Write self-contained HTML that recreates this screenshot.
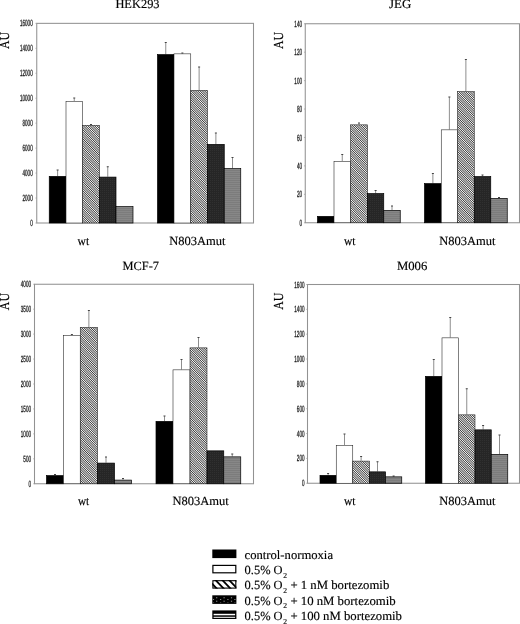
<!DOCTYPE html>
<html><head><meta charset="utf-8"><title>Figure</title>
<style>
html,body{margin:0;padding:0;background:#fff;}
svg{display:block}
.t{font-family:"Liberation Serif",serif;font-size:12.5px;fill:#000;stroke:#000;stroke-width:0.15px;text-rendering:geometricPrecision}
.k{font-family:"Liberation Sans",sans-serif;font-size:9px;fill:#1a1a1a;stroke:#1a1a1a;stroke-width:0.3px;text-rendering:geometricPrecision}
</style></head><body>
<svg width="520" height="624" viewBox="0 0 520 624">
<defs>
<pattern id="hatch" width="1.6" height="1.6" patternUnits="userSpaceOnUse" patternTransform="rotate(-45)">
<rect width="1.6" height="1.6" fill="#fafafa"/><rect x="0" y="0" width="0.74" height="1.6" fill="#2a2a2a"/>
</pattern>
<pattern id="dark" width="2" height="2" patternUnits="userSpaceOnUse">
<rect width="2" height="2" fill="#262626"/><rect x="0" y="0" width="1" height="1" fill="#303030"/>
</pattern>
<pattern id="gray" width="2" height="2" patternUnits="userSpaceOnUse">
<rect width="2" height="2" fill="#878787"/><rect x="0" y="0" width="2" height="1" fill="#7c7c7c"/>
</pattern>
</defs>
<rect width="520" height="624" fill="#fff"/>

<rect x="36.75" y="23.35" width="216.75" height="199.65" fill="none" stroke="#929292" stroke-width="1.05"/>
<line x1="35.45" x2="36.75" y1="223.00" y2="223.00" stroke="#999" stroke-width="0.7"/>
<text class="k" x="30.15" y="226.05" textLength="2.55" lengthAdjust="spacingAndGlyphs">0</text>
<line x1="35.45" x2="36.75" y1="198.04" y2="198.04" stroke="#999" stroke-width="0.7"/>
<text class="k" x="22.50" y="201.09" textLength="10.20" lengthAdjust="spacingAndGlyphs">2000</text>
<line x1="35.45" x2="36.75" y1="173.09" y2="173.09" stroke="#999" stroke-width="0.7"/>
<text class="k" x="22.50" y="176.14" textLength="10.20" lengthAdjust="spacingAndGlyphs">4000</text>
<line x1="35.45" x2="36.75" y1="148.13" y2="148.13" stroke="#999" stroke-width="0.7"/>
<text class="k" x="22.50" y="151.18" textLength="10.20" lengthAdjust="spacingAndGlyphs">6000</text>
<line x1="35.45" x2="36.75" y1="123.17" y2="123.17" stroke="#999" stroke-width="0.7"/>
<text class="k" x="22.50" y="126.22" textLength="10.20" lengthAdjust="spacingAndGlyphs">8000</text>
<line x1="35.45" x2="36.75" y1="98.22" y2="98.22" stroke="#999" stroke-width="0.7"/>
<text class="k" x="19.95" y="101.27" textLength="12.75" lengthAdjust="spacingAndGlyphs">10000</text>
<line x1="35.45" x2="36.75" y1="73.26" y2="73.26" stroke="#999" stroke-width="0.7"/>
<text class="k" x="19.95" y="76.31" textLength="12.75" lengthAdjust="spacingAndGlyphs">12000</text>
<line x1="35.45" x2="36.75" y1="48.31" y2="48.31" stroke="#999" stroke-width="0.7"/>
<text class="k" x="19.95" y="51.36" textLength="12.75" lengthAdjust="spacingAndGlyphs">14000</text>
<line x1="35.45" x2="36.75" y1="23.35" y2="23.35" stroke="#999" stroke-width="0.7"/>
<text class="k" x="19.95" y="26.40" textLength="12.75" lengthAdjust="spacingAndGlyphs">16000</text>
<text class="t" x="115.4" y="8.35" textLength="44.20" lengthAdjust="spacingAndGlyphs">HEK293</text>
<text class="t" transform="translate(8.6,40.5) rotate(-90) scale(0.955,1.1)" text-anchor="middle" style="text-rendering:geometricPrecision">AU</text>
<text class="t" x="77.5" y="244.7" textLength="11.60" lengthAdjust="spacingAndGlyphs">wt</text>
<text class="t" x="169.2" y="244.7" textLength="56.30" lengthAdjust="spacingAndGlyphs">N803Amut</text>
<line x1="57.62" x2="57.62" y1="170.00" y2="176.00" stroke="#686868" stroke-width="0.75"/>
<line x1="56.62" x2="58.62" y1="170.00" y2="170.00" stroke="#444" stroke-width="1"/>
<rect x="49.25" y="176.35" width="16.75" height="46.65" fill="#000" stroke="#000" stroke-width="0.7"/>
<line x1="74.25" x2="74.25" y1="98.00" y2="101.00" stroke="#686868" stroke-width="0.75"/>
<line x1="73.25" x2="75.25" y1="98.00" y2="98.00" stroke="#444" stroke-width="1"/>
<rect x="66.00" y="101.35" width="16.50" height="121.65" fill="#fff" stroke="#1a1a1a" stroke-width="0.55"/>
<line x1="91.00" x2="91.00" y1="124.50" y2="125.00" stroke="#686868" stroke-width="0.75"/>
<line x1="90.00" x2="92.00" y1="124.50" y2="124.50" stroke="#444" stroke-width="1"/>
<rect x="82.50" y="125.35" width="17.00" height="97.65" fill="url(#hatch)" stroke="#1a1a1a" stroke-width="0.55"/>
<line x1="107.75" x2="107.75" y1="166.75" y2="176.75" stroke="#686868" stroke-width="0.75"/>
<line x1="106.75" x2="108.75" y1="166.75" y2="166.75" stroke="#444" stroke-width="1"/>
<rect x="99.50" y="177.10" width="16.50" height="45.90" fill="url(#dark)" stroke="#000" stroke-width="0.7"/>
<rect x="116.00" y="206.60" width="17.00" height="16.40" fill="url(#gray)" stroke="#000" stroke-width="0.7"/>
<line x1="165.75" x2="165.75" y1="42.50" y2="54.25" stroke="#686868" stroke-width="0.75"/>
<line x1="164.75" x2="166.75" y1="42.50" y2="42.50" stroke="#444" stroke-width="1"/>
<rect x="157.50" y="54.60" width="16.50" height="168.40" fill="#000" stroke="#000" stroke-width="0.7"/>
<line x1="182.38" x2="182.38" y1="53.00" y2="53.50" stroke="#686868" stroke-width="0.75"/>
<line x1="181.38" x2="183.38" y1="53.00" y2="53.00" stroke="#444" stroke-width="1"/>
<rect x="174.00" y="53.85" width="16.75" height="169.15" fill="#fff" stroke="#1a1a1a" stroke-width="0.55"/>
<line x1="199.12" x2="199.12" y1="67.00" y2="90.00" stroke="#686868" stroke-width="0.75"/>
<line x1="198.12" x2="200.12" y1="67.00" y2="67.00" stroke="#444" stroke-width="1"/>
<rect x="190.75" y="90.35" width="16.75" height="132.65" fill="url(#hatch)" stroke="#1a1a1a" stroke-width="0.55"/>
<line x1="215.88" x2="215.88" y1="133.00" y2="144.00" stroke="#686868" stroke-width="0.75"/>
<line x1="214.88" x2="216.88" y1="133.00" y2="133.00" stroke="#444" stroke-width="1"/>
<rect x="207.50" y="144.35" width="16.75" height="78.65" fill="url(#dark)" stroke="#000" stroke-width="0.7"/>
<line x1="232.50" x2="232.50" y1="157.50" y2="168.25" stroke="#686868" stroke-width="0.75"/>
<line x1="231.50" x2="233.50" y1="157.50" y2="157.50" stroke="#444" stroke-width="1"/>
<rect x="224.25" y="168.60" width="16.50" height="54.40" fill="url(#gray)" stroke="#000" stroke-width="0.7"/>
<rect x="305.25" y="23.75" width="214.25" height="199.00" fill="none" stroke="#929292" stroke-width="1.05"/>
<line x1="303.95" x2="305.25" y1="222.75" y2="222.75" stroke="#999" stroke-width="0.7"/>
<text class="k" x="299.45" y="225.80" textLength="2.55" lengthAdjust="spacingAndGlyphs">0</text>
<line x1="303.95" x2="305.25" y1="194.32" y2="194.32" stroke="#999" stroke-width="0.7"/>
<text class="k" x="296.90" y="197.37" textLength="5.10" lengthAdjust="spacingAndGlyphs">20</text>
<line x1="303.95" x2="305.25" y1="165.89" y2="165.89" stroke="#999" stroke-width="0.7"/>
<text class="k" x="296.90" y="168.94" textLength="5.10" lengthAdjust="spacingAndGlyphs">40</text>
<line x1="303.95" x2="305.25" y1="137.46" y2="137.46" stroke="#999" stroke-width="0.7"/>
<text class="k" x="296.90" y="140.51" textLength="5.10" lengthAdjust="spacingAndGlyphs">60</text>
<line x1="303.95" x2="305.25" y1="109.04" y2="109.04" stroke="#999" stroke-width="0.7"/>
<text class="k" x="296.90" y="112.09" textLength="5.10" lengthAdjust="spacingAndGlyphs">80</text>
<line x1="303.95" x2="305.25" y1="80.61" y2="80.61" stroke="#999" stroke-width="0.7"/>
<text class="k" x="294.35" y="83.66" textLength="7.65" lengthAdjust="spacingAndGlyphs">100</text>
<line x1="303.95" x2="305.25" y1="52.18" y2="52.18" stroke="#999" stroke-width="0.7"/>
<text class="k" x="294.35" y="55.23" textLength="7.65" lengthAdjust="spacingAndGlyphs">120</text>
<line x1="303.95" x2="305.25" y1="23.75" y2="23.75" stroke="#999" stroke-width="0.7"/>
<text class="k" x="294.35" y="26.80" textLength="7.65" lengthAdjust="spacingAndGlyphs">140</text>
<text class="t" x="389.1" y="8.35" textLength="22.20" lengthAdjust="spacingAndGlyphs">JEG</text>
<text class="t" transform="translate(282.5,40.5) rotate(-90) scale(0.955,1.1)" text-anchor="middle" style="text-rendering:geometricPrecision">AU</text>
<text class="t" x="344" y="244.7" textLength="11.50" lengthAdjust="spacingAndGlyphs">wt</text>
<text class="t" x="439.25" y="244.7" textLength="56.25" lengthAdjust="spacingAndGlyphs">N803Amut</text>
<rect x="317.50" y="216.35" width="16.50" height="6.40" fill="#000" stroke="#000" stroke-width="0.7"/>
<line x1="342.25" x2="342.25" y1="154.50" y2="161.00" stroke="#686868" stroke-width="0.75"/>
<line x1="341.25" x2="343.25" y1="154.50" y2="154.50" stroke="#444" stroke-width="1"/>
<rect x="334.00" y="161.35" width="16.50" height="61.40" fill="#fff" stroke="#1a1a1a" stroke-width="0.55"/>
<line x1="359.00" x2="359.00" y1="123.00" y2="124.50" stroke="#686868" stroke-width="0.75"/>
<line x1="358.00" x2="360.00" y1="123.00" y2="123.00" stroke="#444" stroke-width="1"/>
<rect x="350.50" y="124.85" width="17.00" height="97.90" fill="url(#hatch)" stroke="#1a1a1a" stroke-width="0.55"/>
<line x1="375.62" x2="375.62" y1="190.50" y2="193.25" stroke="#686868" stroke-width="0.75"/>
<line x1="374.62" x2="376.62" y1="190.50" y2="190.50" stroke="#444" stroke-width="1"/>
<rect x="367.50" y="193.60" width="16.25" height="29.15" fill="url(#dark)" stroke="#000" stroke-width="0.7"/>
<line x1="392.00" x2="392.00" y1="206.00" y2="210.00" stroke="#686868" stroke-width="0.75"/>
<line x1="391.00" x2="393.00" y1="206.00" y2="206.00" stroke="#444" stroke-width="1"/>
<rect x="383.75" y="210.35" width="16.50" height="12.40" fill="url(#gray)" stroke="#000" stroke-width="0.7"/>
<line x1="432.88" x2="432.88" y1="173.50" y2="183.25" stroke="#686868" stroke-width="0.75"/>
<line x1="431.88" x2="433.88" y1="173.50" y2="173.50" stroke="#444" stroke-width="1"/>
<rect x="424.50" y="183.60" width="16.75" height="39.15" fill="#000" stroke="#000" stroke-width="0.7"/>
<line x1="449.38" x2="449.38" y1="97.00" y2="129.50" stroke="#686868" stroke-width="0.75"/>
<line x1="448.38" x2="450.38" y1="97.00" y2="97.00" stroke="#444" stroke-width="1"/>
<rect x="441.25" y="129.85" width="16.25" height="92.90" fill="#fff" stroke="#1a1a1a" stroke-width="0.55"/>
<line x1="465.88" x2="465.88" y1="59.50" y2="91.25" stroke="#686868" stroke-width="0.75"/>
<line x1="464.88" x2="466.88" y1="59.50" y2="59.50" stroke="#444" stroke-width="1"/>
<rect x="457.50" y="91.60" width="16.75" height="131.15" fill="url(#hatch)" stroke="#1a1a1a" stroke-width="0.55"/>
<line x1="482.50" x2="482.50" y1="175.00" y2="176.25" stroke="#686868" stroke-width="0.75"/>
<line x1="481.50" x2="483.50" y1="175.00" y2="175.00" stroke="#444" stroke-width="1"/>
<rect x="474.25" y="176.60" width="16.50" height="46.15" fill="url(#dark)" stroke="#000" stroke-width="0.7"/>
<line x1="499.00" x2="499.00" y1="197.50" y2="198.00" stroke="#686868" stroke-width="0.75"/>
<line x1="498.00" x2="500.00" y1="197.50" y2="197.50" stroke="#444" stroke-width="1"/>
<rect x="490.75" y="198.35" width="16.50" height="24.40" fill="url(#gray)" stroke="#000" stroke-width="0.7"/>
<rect x="34.5" y="284.25" width="219.00" height="199.50" fill="none" stroke="#929292" stroke-width="1.05"/>
<line x1="33.2" x2="34.5" y1="483.75" y2="483.75" stroke="#999" stroke-width="0.7"/>
<text class="k" x="28.45" y="486.80" textLength="2.55" lengthAdjust="spacingAndGlyphs">0</text>
<line x1="33.2" x2="34.5" y1="458.81" y2="458.81" stroke="#999" stroke-width="0.7"/>
<text class="k" x="23.35" y="461.86" textLength="7.65" lengthAdjust="spacingAndGlyphs">500</text>
<line x1="33.2" x2="34.5" y1="433.88" y2="433.88" stroke="#999" stroke-width="0.7"/>
<text class="k" x="20.80" y="436.93" textLength="10.20" lengthAdjust="spacingAndGlyphs">1000</text>
<line x1="33.2" x2="34.5" y1="408.94" y2="408.94" stroke="#999" stroke-width="0.7"/>
<text class="k" x="20.80" y="411.99" textLength="10.20" lengthAdjust="spacingAndGlyphs">1500</text>
<line x1="33.2" x2="34.5" y1="384.00" y2="384.00" stroke="#999" stroke-width="0.7"/>
<text class="k" x="20.80" y="387.05" textLength="10.20" lengthAdjust="spacingAndGlyphs">2000</text>
<line x1="33.2" x2="34.5" y1="359.06" y2="359.06" stroke="#999" stroke-width="0.7"/>
<text class="k" x="20.80" y="362.11" textLength="10.20" lengthAdjust="spacingAndGlyphs">2500</text>
<line x1="33.2" x2="34.5" y1="334.12" y2="334.12" stroke="#999" stroke-width="0.7"/>
<text class="k" x="20.80" y="337.18" textLength="10.20" lengthAdjust="spacingAndGlyphs">3000</text>
<line x1="33.2" x2="34.5" y1="309.19" y2="309.19" stroke="#999" stroke-width="0.7"/>
<text class="k" x="20.80" y="312.24" textLength="10.20" lengthAdjust="spacingAndGlyphs">3500</text>
<line x1="33.2" x2="34.5" y1="284.25" y2="284.25" stroke="#999" stroke-width="0.7"/>
<text class="k" x="20.80" y="287.30" textLength="10.20" lengthAdjust="spacingAndGlyphs">4000</text>
<text class="t" x="122.5" y="269.55" textLength="36.50" lengthAdjust="spacingAndGlyphs">MCF-7</text>
<text class="t" transform="translate(8.6,301.6) rotate(-90) scale(0.955,1.1)" text-anchor="middle" style="text-rendering:geometricPrecision">AU</text>
<text class="t" x="78" y="505.1" textLength="11.25" lengthAdjust="spacingAndGlyphs">wt</text>
<text class="t" x="172.5" y="505.1" textLength="56.25" lengthAdjust="spacingAndGlyphs">N803Amut</text>
<line x1="55.00" x2="55.00" y1="474.50" y2="475.25" stroke="#686868" stroke-width="0.75"/>
<line x1="54.00" x2="56.00" y1="474.50" y2="474.50" stroke="#444" stroke-width="1"/>
<rect x="46.50" y="475.60" width="17.00" height="8.15" fill="#000" stroke="#000" stroke-width="0.7"/>
<line x1="71.88" x2="71.88" y1="334.50" y2="335.25" stroke="#686868" stroke-width="0.75"/>
<line x1="70.88" x2="72.88" y1="334.50" y2="334.50" stroke="#444" stroke-width="1"/>
<rect x="63.50" y="335.60" width="16.75" height="148.15" fill="#fff" stroke="#1a1a1a" stroke-width="0.55"/>
<line x1="88.88" x2="88.88" y1="310.50" y2="327.00" stroke="#686868" stroke-width="0.75"/>
<line x1="87.88" x2="89.88" y1="310.50" y2="310.50" stroke="#444" stroke-width="1"/>
<rect x="80.25" y="327.35" width="17.25" height="156.40" fill="url(#hatch)" stroke="#1a1a1a" stroke-width="0.55"/>
<line x1="106.00" x2="106.00" y1="457.00" y2="462.75" stroke="#686868" stroke-width="0.75"/>
<line x1="105.00" x2="107.00" y1="457.00" y2="457.00" stroke="#444" stroke-width="1"/>
<rect x="97.50" y="463.10" width="17.00" height="20.65" fill="url(#dark)" stroke="#000" stroke-width="0.7"/>
<line x1="123.00" x2="123.00" y1="478.50" y2="479.75" stroke="#686868" stroke-width="0.75"/>
<line x1="122.00" x2="124.00" y1="478.50" y2="478.50" stroke="#444" stroke-width="1"/>
<rect x="114.50" y="480.10" width="17.00" height="3.65" fill="url(#gray)" stroke="#000" stroke-width="0.7"/>
<line x1="164.50" x2="164.50" y1="416.00" y2="421.00" stroke="#686868" stroke-width="0.75"/>
<line x1="163.50" x2="165.50" y1="416.00" y2="416.00" stroke="#444" stroke-width="1"/>
<rect x="156.00" y="421.35" width="17.00" height="62.40" fill="#000" stroke="#000" stroke-width="0.7"/>
<line x1="181.50" x2="181.50" y1="359.50" y2="369.50" stroke="#686868" stroke-width="0.75"/>
<line x1="180.50" x2="182.50" y1="359.50" y2="359.50" stroke="#444" stroke-width="1"/>
<rect x="173.00" y="369.85" width="17.00" height="113.90" fill="#fff" stroke="#1a1a1a" stroke-width="0.55"/>
<line x1="198.50" x2="198.50" y1="337.50" y2="347.50" stroke="#686868" stroke-width="0.75"/>
<line x1="197.50" x2="199.50" y1="337.50" y2="337.50" stroke="#444" stroke-width="1"/>
<rect x="190.00" y="347.85" width="17.00" height="135.90" fill="url(#hatch)" stroke="#1a1a1a" stroke-width="0.55"/>
<rect x="207.00" y="450.85" width="16.75" height="32.90" fill="url(#dark)" stroke="#000" stroke-width="0.7"/>
<line x1="232.25" x2="232.25" y1="454.00" y2="456.50" stroke="#686868" stroke-width="0.75"/>
<line x1="231.25" x2="233.25" y1="454.00" y2="454.00" stroke="#444" stroke-width="1"/>
<rect x="223.75" y="456.85" width="17.00" height="26.90" fill="url(#gray)" stroke="#000" stroke-width="0.7"/>
<rect x="307.5" y="284.5" width="212.00" height="198.75" fill="none" stroke="#929292" stroke-width="1.05"/>
<line x1="306.2" x2="307.5" y1="483.25" y2="483.25" stroke="#999" stroke-width="0.7"/>
<text class="k" x="301.95" y="486.30" textLength="2.55" lengthAdjust="spacingAndGlyphs">0</text>
<line x1="306.2" x2="307.5" y1="458.41" y2="458.41" stroke="#999" stroke-width="0.7"/>
<text class="k" x="296.85" y="461.46" textLength="7.65" lengthAdjust="spacingAndGlyphs">200</text>
<line x1="306.2" x2="307.5" y1="433.56" y2="433.56" stroke="#999" stroke-width="0.7"/>
<text class="k" x="296.85" y="436.61" textLength="7.65" lengthAdjust="spacingAndGlyphs">400</text>
<line x1="306.2" x2="307.5" y1="408.72" y2="408.72" stroke="#999" stroke-width="0.7"/>
<text class="k" x="296.85" y="411.77" textLength="7.65" lengthAdjust="spacingAndGlyphs">600</text>
<line x1="306.2" x2="307.5" y1="383.88" y2="383.88" stroke="#999" stroke-width="0.7"/>
<text class="k" x="296.85" y="386.93" textLength="7.65" lengthAdjust="spacingAndGlyphs">800</text>
<line x1="306.2" x2="307.5" y1="359.03" y2="359.03" stroke="#999" stroke-width="0.7"/>
<text class="k" x="294.30" y="362.08" textLength="10.20" lengthAdjust="spacingAndGlyphs">1000</text>
<line x1="306.2" x2="307.5" y1="334.19" y2="334.19" stroke="#999" stroke-width="0.7"/>
<text class="k" x="294.30" y="337.24" textLength="10.20" lengthAdjust="spacingAndGlyphs">1200</text>
<line x1="306.2" x2="307.5" y1="309.34" y2="309.34" stroke="#999" stroke-width="0.7"/>
<text class="k" x="294.30" y="312.39" textLength="10.20" lengthAdjust="spacingAndGlyphs">1400</text>
<line x1="306.2" x2="307.5" y1="284.50" y2="284.50" stroke="#999" stroke-width="0.7"/>
<text class="k" x="294.30" y="287.55" textLength="10.20" lengthAdjust="spacingAndGlyphs">1600</text>
<text class="t" x="397" y="269.55" textLength="30.30" lengthAdjust="spacingAndGlyphs">M006</text>
<text class="t" transform="translate(282.5,301.2) rotate(-90) scale(0.955,1.1)" text-anchor="middle" style="text-rendering:geometricPrecision">AU</text>
<text class="t" x="344" y="505.1" textLength="11.50" lengthAdjust="spacingAndGlyphs">wt</text>
<text class="t" x="439.25" y="505.1" textLength="56.25" lengthAdjust="spacingAndGlyphs">N803Amut</text>
<line x1="328.12" x2="328.12" y1="473.50" y2="475.00" stroke="#686868" stroke-width="0.75"/>
<line x1="327.12" x2="329.12" y1="473.50" y2="473.50" stroke="#444" stroke-width="1"/>
<rect x="320.00" y="475.35" width="16.25" height="7.90" fill="#000" stroke="#000" stroke-width="0.7"/>
<line x1="344.50" x2="344.50" y1="434.00" y2="445.00" stroke="#686868" stroke-width="0.75"/>
<line x1="343.50" x2="345.50" y1="434.00" y2="434.00" stroke="#444" stroke-width="1"/>
<rect x="336.25" y="445.35" width="16.50" height="37.90" fill="#fff" stroke="#1a1a1a" stroke-width="0.55"/>
<line x1="361.12" x2="361.12" y1="456.50" y2="460.75" stroke="#686868" stroke-width="0.75"/>
<line x1="360.12" x2="362.12" y1="456.50" y2="456.50" stroke="#444" stroke-width="1"/>
<rect x="352.75" y="461.10" width="16.75" height="22.15" fill="url(#hatch)" stroke="#1a1a1a" stroke-width="0.55"/>
<line x1="377.50" x2="377.50" y1="461.75" y2="471.50" stroke="#686868" stroke-width="0.75"/>
<line x1="376.50" x2="378.50" y1="461.75" y2="461.75" stroke="#444" stroke-width="1"/>
<rect x="369.50" y="471.85" width="16.00" height="11.40" fill="url(#dark)" stroke="#000" stroke-width="0.7"/>
<line x1="393.62" x2="393.62" y1="476.00" y2="476.50" stroke="#686868" stroke-width="0.75"/>
<line x1="392.62" x2="394.62" y1="476.00" y2="476.00" stroke="#444" stroke-width="1"/>
<rect x="385.50" y="476.85" width="16.25" height="6.40" fill="url(#gray)" stroke="#000" stroke-width="0.7"/>
<line x1="433.75" x2="433.75" y1="359.50" y2="376.00" stroke="#686868" stroke-width="0.75"/>
<line x1="432.75" x2="434.75" y1="359.50" y2="359.50" stroke="#444" stroke-width="1"/>
<rect x="425.50" y="376.35" width="16.50" height="106.90" fill="#000" stroke="#000" stroke-width="0.7"/>
<line x1="450.25" x2="450.25" y1="317.50" y2="337.50" stroke="#686868" stroke-width="0.75"/>
<line x1="449.25" x2="451.25" y1="317.50" y2="317.50" stroke="#444" stroke-width="1"/>
<rect x="442.00" y="337.85" width="16.50" height="145.40" fill="#fff" stroke="#1a1a1a" stroke-width="0.55"/>
<line x1="466.75" x2="466.75" y1="388.75" y2="414.50" stroke="#686868" stroke-width="0.75"/>
<line x1="465.75" x2="467.75" y1="388.75" y2="388.75" stroke="#444" stroke-width="1"/>
<rect x="458.50" y="414.85" width="16.50" height="68.40" fill="url(#hatch)" stroke="#1a1a1a" stroke-width="0.55"/>
<line x1="483.12" x2="483.12" y1="425.50" y2="429.50" stroke="#686868" stroke-width="0.75"/>
<line x1="482.12" x2="484.12" y1="425.50" y2="425.50" stroke="#444" stroke-width="1"/>
<rect x="475.00" y="429.85" width="16.25" height="53.40" fill="url(#dark)" stroke="#000" stroke-width="0.7"/>
<line x1="499.50" x2="499.50" y1="435.00" y2="454.00" stroke="#686868" stroke-width="0.75"/>
<line x1="498.50" x2="500.50" y1="435.00" y2="435.00" stroke="#444" stroke-width="1"/>
<rect x="491.25" y="454.35" width="16.50" height="28.90" fill="url(#gray)" stroke="#000" stroke-width="0.7"/>
<rect x="212.3" y="549.5" width="24.10" height="8.6" fill="#000"/>
<rect x="212.9" y="565.4" width="22.90" height="7.3999999999999995" fill="#fff" stroke="#000" stroke-width="1.2"/>
<clipPath id="c3"><rect x="212.3" y="580.1" width="24.10" height="8.6"/></clipPath>
<g clip-path="url(#c3)">
<polygon points="207.3,580.1 209.8,580.1 218.2,588.7 215.7,588.7" fill="#000"/>
<polygon points="214.2,580.1 216.7,580.1 225.1,588.7 222.6,588.7" fill="#000"/>
<polygon points="221.0,580.1 223.5,580.1 231.9,588.7 229.4,588.7" fill="#000"/>
<polygon points="227.8,580.1 230.3,580.1 238.7,588.7 236.2,588.7" fill="#000"/>
<polygon points="234.5,580.1 237.0,580.1 245.4,588.7 242.9,588.7" fill="#000"/>
</g>
<rect x="212.9" y="580.7" width="22.90" height="7.3999999999999995" fill="none" stroke="#000" stroke-width="1.1"/>
<rect x="212.3" y="595.3" width="24.10" height="8.6" fill="#000"/>
<rect x="216.10" y="597.20" width="1.2" height="1.1" fill="#8a8a8a"/>
<rect x="216.10" y="600.70" width="1.2" height="1.1" fill="#8a8a8a"/>
<rect x="223.50" y="597.20" width="1.2" height="1.1" fill="#8a8a8a"/>
<rect x="223.50" y="600.70" width="1.2" height="1.1" fill="#8a8a8a"/>
<rect x="230.90" y="597.20" width="1.2" height="1.1" fill="#8a8a8a"/>
<rect x="230.90" y="600.70" width="1.2" height="1.1" fill="#8a8a8a"/>
<rect x="212.90" y="599.00" width="1.2" height="1.0" fill="#8a8a8a"/>
<rect x="212.90" y="602.10" width="1.2" height="1.0" fill="#444"/>
<rect x="220.00" y="599.00" width="1.2" height="1.0" fill="#8a8a8a"/>
<rect x="220.00" y="602.10" width="1.2" height="1.0" fill="#444"/>
<rect x="227.30" y="599.00" width="1.2" height="1.0" fill="#8a8a8a"/>
<rect x="227.30" y="602.10" width="1.2" height="1.0" fill="#444"/>
<rect x="234.30" y="599.00" width="1.2" height="1.0" fill="#8a8a8a"/>
<rect x="234.30" y="602.10" width="1.2" height="1.0" fill="#444"/>
<rect x="212.3" y="610.4" width="24.10" height="8.6" fill="#000"/>
<rect x="213.60000000000002" y="613.8" width="21.50" height="1.5" fill="#fff"/>
<rect x="213.60000000000002" y="616.8" width="21.50" height="1.0" fill="#fff"/>
<text class="t" x="244.6" y="558.9" textLength="88.4" lengthAdjust="spacingAndGlyphs">control-normoxia</text>
<text class="t" x="244.6" y="574.35" textLength="38" lengthAdjust="spacingAndGlyphs">0.5% O</text><text class="t" x="283.3" y="578.15" style="font-size:7.6px">2</text>
<text class="t" x="244.6" y="589.4" textLength="38" lengthAdjust="spacingAndGlyphs">0.5% O</text><text class="t" x="283.3" y="593.1999999999999" style="font-size:7.6px">2</text><text class="t" x="290.4" y="589.4" textLength="98.90" lengthAdjust="spacingAndGlyphs">+ 1 nM bortezomib</text>
<text class="t" x="244.6" y="604.55" textLength="38" lengthAdjust="spacingAndGlyphs">0.5% O</text><text class="t" x="283.3" y="608.3499999999999" style="font-size:7.6px">2</text><text class="t" x="290.4" y="604.55" textLength="105.30" lengthAdjust="spacingAndGlyphs">+ 10 nM bortezomib</text>
<text class="t" x="244.6" y="619.9" textLength="38" lengthAdjust="spacingAndGlyphs">0.5% O</text><text class="t" x="283.3" y="623.6999999999999" style="font-size:7.6px">2</text><text class="t" x="290.4" y="619.9" textLength="111.60" lengthAdjust="spacingAndGlyphs">+ 100 nM bortezomib</text>
</svg></body></html>
